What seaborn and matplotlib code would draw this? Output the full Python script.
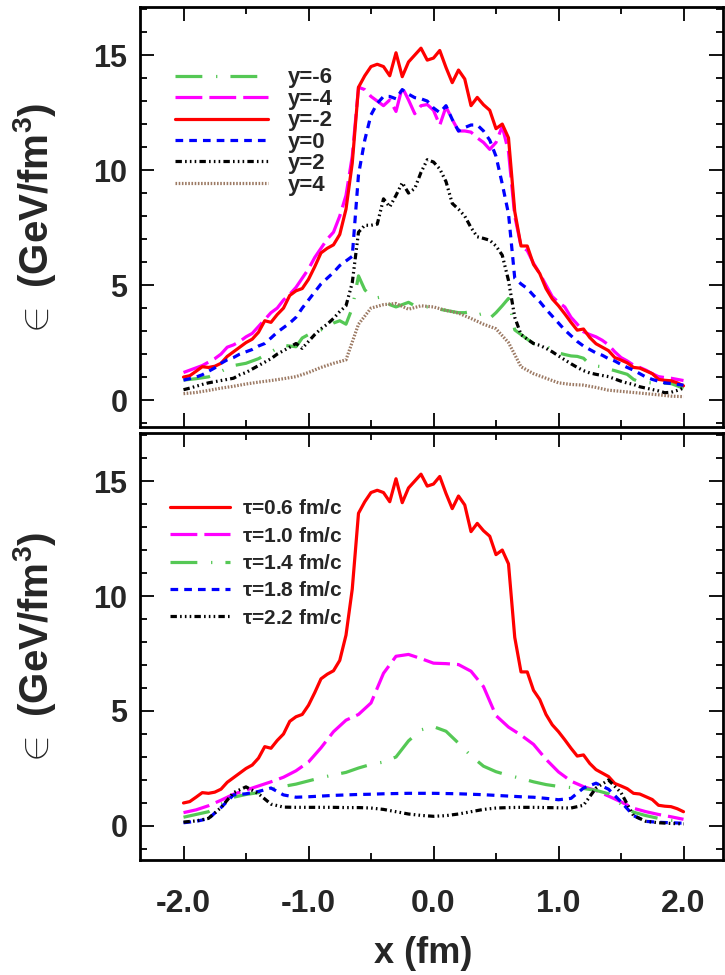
import numpy as np
import pandas as pd
import matplotlib
matplotlib.use("Agg")
import matplotlib.pyplot as plt
import seaborn as sns
from matplotlib.ticker import MultipleLocator, FormatStrFormatter

# ---------------- data ----------------
x05 = np.round(np.linspace(-2.0, 2.0, 81), 2)
x10 = np.round(np.linspace(-2.0, 2.0, 41), 2)

# top panel (rapidity slices), x step 0.05
eps_ym2 = [1.0, 1.06, 1.25, 1.45, 1.42, 1.47, 1.6, 1.9, 2.1, 2.3,
           2.5, 2.65, 2.95, 3.45, 3.38, 3.72, 4.0, 4.55, 4.75, 4.85,
           5.25, 5.8, 6.4, 6.6, 6.75, 7.2, 8.3, 10.3, 13.6, 14.1,
           14.5, 14.6, 14.5, 14.1, 15.1, 14.06, 14.7, 15.0, 15.3, 14.78,
           14.87, 15.2, 14.46, 13.8, 14.35, 13.96, 12.8, 13.16, 12.84, 12.6,
           11.8, 12.0, 11.4, 8.2, 6.7, 6.7, 5.9, 5.5, 4.85, 4.4,
           4.1, 3.75, 3.38, 3.04, 3.09, 2.72, 2.45, 2.3, 2.15, 1.85,
           1.74, 1.62, 1.42, 1.39, 1.27, 1.15, 0.9, 0.86, 0.84, 0.75, 0.62]
eps_ym4 = [1.2, 1.3, 1.4, 1.5, 1.65, 1.8, 2.0, 2.3, 2.4, 2.55,
           2.75, 2.9, 3.2, 3.5, 3.8, 4.0, 4.35, 4.6, 4.9, 5.3,
           5.7, 6.2, 6.6, 7.0, 7.3, 8.0, 8.9, 10.6, 13.6, 13.5,
           13.2, 13.0, 12.8, 13.05, 12.55, 13.6, 13.05, 12.45, 12.8, 12.85,
           12.6, 11.95, 12.75, 12.2, 11.7, 11.7, 11.65, 11.4, 11.2, 10.9,
           11.2, 11.9, 10.8, 8.0, 6.7, 6.5, 5.95, 5.5, 5.0, 4.5,
           4.25, 4.05, 3.6, 3.3, 2.97, 2.85, 2.75, 2.6, 2.4, 2.1,
           1.85, 1.7, 1.52, 1.42, 1.3, 1.15, 1.02, 0.98, 0.95, 0.9, 0.85]
eps_y0 = [0.87, 0.93, 1.0, 1.1, 1.25, 1.4, 1.6, 1.75, 1.85, 2.0,
          2.1, 2.2, 2.35, 2.46, 2.7, 2.95, 3.15, 3.35, 3.6, 4.0,
          4.35, 4.7, 5.05, 5.3, 5.55, 5.85, 6.05, 6.25, 9.8, 11.3,
          12.4, 12.9, 13.2, 13.2, 13.1, 13.5, 13.3, 13.15, 13.1, 13.0,
          12.7, 12.5, 12.8, 12.2, 11.7, 11.85, 11.96, 11.96, 11.7, 11.3,
          10.6, 9.4, 8.1, 5.3, 5.05, 4.85, 4.55, 4.28, 3.95, 3.65,
          3.35, 3.05, 2.8, 2.55, 2.35, 2.2, 2.05, 1.95, 1.8, 1.7,
          1.55, 1.42, 1.3, 1.15, 1.0, 0.9, 0.82, 0.75, 0.72, 0.68, 0.65]
eps_y2 = [0.45, 0.52, 0.6, 0.68, 0.75, 0.8, 0.85, 0.9, 0.95, 1.1,
          1.2, 1.35, 1.5, 1.65, 1.8, 2.0, 2.15, 2.3, 2.46, 2.25,
          2.55, 2.85, 3.1, 3.3, 3.55, 3.85, 4.1, 5.1, 7.3, 7.6,
          7.6, 7.65, 8.75, 8.4, 8.9, 9.45, 9.0, 9.2, 9.9, 10.45,
          10.35, 10.05, 9.5, 8.55, 8.3, 8.0, 7.5, 7.1, 7.03, 6.95,
          6.7, 6.3, 5.2, 3.6, 2.85, 2.65, 2.46, 2.38, 2.25, 2.1,
          1.92, 1.75, 1.58, 1.42, 1.28, 1.18, 1.12, 1.07, 1.02, 0.92,
          0.82, 0.74, 0.68, 0.58, 0.52, 0.46, 0.4, 0.32, 0.34, 0.42, 0.52]
eps_ym6 = [0.87, 0.9, 0.93, 0.97, 1.01, 1.1, 1.25, 1.38, 1.5, 1.55,
           1.6, 1.7, 1.8, 1.95, 2.1, 2.25, 2.38, 2.35, 2.32, 2.7,
           2.85, 2.95, 3.05, 3.2, 3.35, 3.45, 3.3, 4.0, 5.4, 4.8,
           4.5, 4.45, 4.5, 4.15, 4.05, 4.15, 4.25, 4.1, 4.05, 4.05,
           4.05, 3.95, 3.9, 3.85, 3.8, 3.8, 3.85, 3.7, 3.77, 3.55,
           3.8, 4.1, 4.42, 3.05, 2.85, 2.65, 2.46, 2.42, 2.35, 2.18,
           2.05, 1.98, 1.92, 1.9, 1.82, 1.55, 1.48, 1.45, 1.35, 1.28,
           1.2, 1.12, 0.9, 0.78, 0.76, 0.75, 0.74, 0.73, 0.72, 0.62, 0.51]
# x step 0.1
eps_y4 = [0.28, 0.33, 0.42, 0.52, 0.6, 0.7, 0.78, 0.85, 0.93, 1.02,
          1.2, 1.42, 1.6, 1.75, 3.3, 4.0, 4.15, 4.2, 3.95, 4.1,
          4.05, 3.9, 3.78, 3.55, 3.3, 3.1, 2.5, 1.45, 1.15, 0.95,
          0.75, 0.68, 0.65, 0.55, 0.43, 0.38, 0.33, 0.28, 0.23, 0.17, 0.15]

# bottom panel (proper times)
eps_t06 = eps_ym2  # same initial profile, x step 0.05
eps_t10 = [0.58, 0.7, 0.88, 1.12, 1.38, 1.56, 1.74, 1.92, 2.12, 2.4,
           2.78, 3.4, 4.1, 4.6, 4.85, 5.35, 6.64, 7.38, 7.46, 7.28,
           7.08, 7.06, 7.02, 6.73, 6.06, 4.8, 4.3, 3.95, 3.55, 2.9,
           2.35, 1.95, 1.71, 1.54, 1.3, 1.05, 0.77, 0.62, 0.5, 0.4, 0.29]
eps_t14 = [0.38, 0.5, 0.62, 0.95, 1.25, 1.37, 1.45, 1.6, 1.72, 1.82,
           1.96, 2.1, 2.22, 2.33, 2.52, 2.68, 2.78, 3.0, 3.7, 4.18,
           4.32, 4.12, 3.6, 3.05, 2.6, 2.36, 2.2, 2.07, 1.92, 1.8,
           1.72, 1.67, 1.63, 1.55, 1.4, 0.95, 0.6, 0.45, 0.33, 0.25, 0.2]
eps_t18 = [0.14, 0.2, 0.32, 0.8, 1.35, 1.4, 1.5, 1.65, 1.35, 1.25,
           1.27, 1.3, 1.33, 1.35, 1.37, 1.38, 1.4, 1.41, 1.42, 1.42,
           1.42, 1.41, 1.4, 1.38, 1.36, 1.33, 1.3, 1.27, 1.25, 1.2,
           1.14, 1.2, 1.65, 1.86, 1.6, 1.05, 0.45, 0.2, 0.16, 0.14, 0.12]
eps_t22 = [0.17, 0.22, 0.33, 0.8, 1.45, 1.7, 1.4, 0.95, 0.82, 0.81,
           0.81, 0.81, 0.81, 0.8, 0.8, 0.78, 0.72, 0.62, 0.52, 0.46,
           0.42, 0.45, 0.52, 0.62, 0.72, 0.78, 0.8, 0.81, 0.81, 0.8,
           0.79, 0.78, 0.9, 1.65, 2.0, 1.45, 0.45, 0.2, 0.14, 0.11, 0.09]

top_labels = ["y=-6", "y=-4", "y=-2", "y=0", "y=2", "y=4"]
bot_labels = [r"$\mathrm{\tau}$=0.6 fm/c", r"$\mathrm{\tau}$=1.0 fm/c",
              r"$\mathrm{\tau}$=1.4 fm/c", r"$\mathrm{\tau}$=1.8 fm/c",
              r"$\mathrm{\tau}$=2.2 fm/c"]
x_ticks = [-2.0, -1.0, 0.0, 1.0, 2.0]
y_ticks = [0, 5, 10, 15]

# ---------------- style ----------------
sns.set_style("white")
plt.rcParams["font.family"] = ["Liberation Sans", "DejaVu Sans"]
plt.rcParams["font.weight"] = "bold"
plt.rcParams["axes.unicode_minus"] = False
plt.rcParams["mathtext.fontset"] = "custom"
plt.rcParams["mathtext.rm"] = "Liberation Sans"
plt.rcParams["mathtext.bf"] = "Liberation Sans:bold"
plt.rcParams["mathtext.it"] = "Liberation Sans:italic"

RED, MAG, GRN, BLU, BLK, BRN = "#ff0000", "#ff00ff", "#55c855", "#0000ff", "#000000", "#9c7a64"
LS_SOLID = "-"
LS_LONG = (0, (8.4, 2.2))
LS_DASHDOT = (0, (8.4, 4.3, 0.4, 4.1))
LS_SHORT = (0, (2.4, 1.9))
LS_DDD = (0, (2.0, 1.0, 0.5, 1.0, 0.5, 1.0, 0.5, 1.0))
LS_DOT = (0, (0.5, 0.5))
LW = 2.3

fig = plt.figure(figsize=(7.25, 9.75), dpi=100)
W, H = 725.0, 975.0
ax1 = fig.add_axes([140 / W, 1 - 427 / H, 583 / W, 420 / H])
ax2 = fig.add_axes([140 / W, 1 - 860 / H, 583 / W, 427 / H])


def draw(ax, x, y, color, ls, label):
    sns.lineplot(x=x, y=y, ax=ax, color=color, linewidth=LW, linestyle=ls,
                 label=label, estimator=None, errorbar=None, sort=False,
                 legend=False)


top_series = [(x05, eps_ym6, GRN, LS_DASHDOT), (x05, eps_ym4, MAG, LS_LONG),
              (x05, eps_ym2, RED, LS_SOLID), (x05, eps_y0, BLU, LS_SHORT),
              (x05, eps_y2, BLK, LS_DDD), (x10, eps_y4, BRN, LS_DOT)]
for (xx, yy, c, ls), lab in zip(top_series, top_labels):
    draw(ax1, xx, yy, c, ls, lab)

bot_series = [(x05, eps_t06, RED, LS_SOLID), (x10, eps_t10, MAG, LS_LONG),
              (x10, eps_t14, GRN, LS_DASHDOT), (x10, eps_t18, BLU, LS_SHORT),
              (x10, eps_t22, BLK, LS_DDD)]
for (xx, yy, c, ls), lab in zip(bot_series, bot_labels):
    draw(ax2, xx, yy, c, ls, lab)

ylab = r"$\in$ (GeV/fm$^{\mathbf{3}}$)"
for ax, ylim in ((ax1, (-1.17, 17.09)), (ax2, (-1.48, 17.09))):
    ax.set_xlim(-2.348, 2.316)
    ax.set_ylim(*ylim)
    ax.xaxis.set_major_locator(MultipleLocator(1.0))
    ax.xaxis.set_minor_locator(MultipleLocator(0.5))
    ax.yaxis.set_major_locator(MultipleLocator(5))
    ax.yaxis.set_minor_locator(MultipleLocator(1))
    ax.tick_params(which="both", direction="in", top=True, right=True,
                   bottom=True, left=True, width=1.3, color="black")
    ax.tick_params(which="major", length=10)
    ax.tick_params(which="minor", length=5)
    ax.tick_params(axis="y", labelsize=22, pad=9)
    for sp in ax.spines.values():
        sp.set_linewidth(2.0)
        sp.set_color("black")
    ax.set_ylabel(ylab, fontsize=29, fontweight="bold")
    ax.yaxis.set_label_coords(-0.14, 0.49)
    for t in ax.get_yticklabels():
        t.set_fontweight("bold")

ax1.set_yticks(y_ticks)
ax2.set_yticks(y_ticks)
ax1.set_xticks(x_ticks)
ax2.set_xticks(x_ticks)
ax1.tick_params(axis="x", labelbottom=False)
ax2.xaxis.set_major_formatter(FormatStrFormatter("%.1f"))
ax2.tick_params(axis="x", labelsize=23, pad=21)
for t in ax2.get_xticklabels():
    t.set_fontweight("bold")
ax1.set_xlabel("")
ax2.set_xlabel("x (fm)", fontsize=26, fontweight="bold")
ax2.xaxis.set_label_coords(0.485, -0.178)

leg1 = ax1.legend(loc="upper left", bbox_to_anchor=(0.06, 0.856), frameon=False,
                  prop={"size": 16, "weight": "bold"}, handlelength=4.2,
                  handletextpad=0.9, labelspacing=0.02, borderpad=0,
                  borderaxespad=0)
leg2 = ax2.legend(loc="upper left", bbox_to_anchor=(0.051, 0.845), frameon=False,
                  prop={"size": 15, "weight": "bold"}, handlelength=2.9,
                  handletextpad=0.55, labelspacing=0.4, borderpad=0,
                  borderaxespad=0)

fig.savefig("out.png", dpi=100)
